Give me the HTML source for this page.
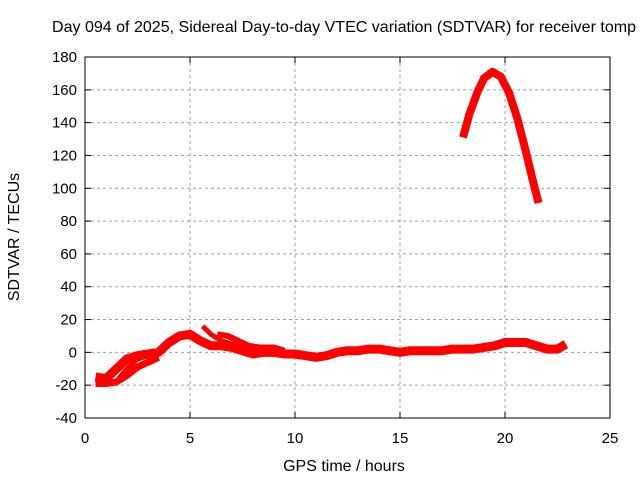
<!DOCTYPE html>
<html><head><meta charset="utf-8"><style>
body{margin:0;background:#fff;}
svg{display:block;font-family:"Liberation Sans",sans-serif;}
</style></head><body>
<svg id="c" width="640" height="480"></svg>
<script>
const xTicks=[0,5,10,15,20,25];
const yTicks=[-40,-20,0,20,40,60,80,100,120,140,160,180];
const seriesMain=[[0.5,-15],[1,-16],[1.5,-10],[2,-4],[2.5,-2],[3,-1],[3.5,0],[4,6],[4.5,10],[5,11],[5.5,7],[6,4],[6.5,4],[7,3],[7.5,1],[8,-1],[8.5,0],[9,0],[9.5,-1],[10,-1],[10.5,-2],[11,-3],[11.5,-2],[12,0],[12.5,1],[13,1],[13.5,2],[14,2],[14.5,1],[15,0],[15.5,1],[16,1],[16.5,1],[17,1],[17.5,2],[18,2],[18.5,2],[19,3],[19.5,4],[20,6],[20.5,6],[21,6],[21.5,4],[22,2],[22.5,2],[22.9,5]];
const seriesLow=[[0.5,-19],[1,-19],[1.5,-18],[2,-14],[2.5,-9],[3,-6],[3.5,-3]];
const seriesMid=[[1.6,-16],[2,-10],[2.5,-4],[3,-2],[3.6,2]];
const seriesBranch=[[5.6,16],[6,11],[6.5,7],[7,5],[7.5,4]];
const seriesBranch2=[[6.3,11],[6.8,10],[7.3,7],[7.8,4],[8.3,3],[9,3],[9.5,1]];
const seriesPeak=[[18,131],[18.3,145],[18.7,159],[19,167],[19.4,171],[19.8,168],[20.2,158],[20.6,142],[21,122],[21.3,106],[21.6,91]];
const X0=85,X1=610,Y0=418,Y1=57;
const sx=v=>X0+(v-0)/25*(X1-X0);
const sy=v=>Y0-(v+40)/220*(Y0-Y1);
const svg=document.getElementById('c');
const NS='http://www.w3.org/2000/svg';
function mk(t,a){const e=document.createElementNS(NS,t);for(const k in a)e.setAttribute(k,a[k]);svg.appendChild(e);return e;}
let t=mk('text',{x:52,y:32,'font-size':16,'text-anchor':'start',fill:'#000',textLength:584,lengthAdjust:'spacingAndGlyphs'});t.textContent='Day 094 of 2025, Sidereal Day-to-day VTEC variation (SDTVAR) for receiver tomp';


xTicks.forEach(v=>{const x=sx(v);
 if(v>0&&v<25){const g=mk('line',{x1:x,x2:x,y1:Y1,y2:Y0,stroke:'#a0a0a0','stroke-dasharray':'3,3'});}
 mk('line',{x1:x,x2:x,y1:Y0,y2:Y0-6,stroke:'#000'});mk('line',{x1:x,x2:x,y1:Y1,y2:Y1+6,stroke:'#000'});
 const l=mk('text',{x:x,y:443,'font-size':15,'text-anchor':'middle'});l.textContent=v;
 
 });
yTicks.forEach(v=>{const y=sy(v);
 if(v>-40&&v<180){const g=mk('line',{x1:X0,x2:X1,y1:y,y2:y,stroke:'#a0a0a0','stroke-dasharray':'3,3'});}
 mk('line',{x1:X0,x2:X0+6,y1:y,y2:y,stroke:'#000'});mk('line',{x1:X1,x2:X1-6,y1:y,y2:y,stroke:'#000'});
 const l=mk('text',{x:77,y:y+5,'font-size':15,'text-anchor':'end'});l.textContent=v;
 
 });
const fr=mk('rect',{x:X0,y:Y1,width:X1-X0,height:Y0-Y1,fill:'none',stroke:'#000'});


[[seriesMain,9],[seriesLow,7],[seriesMid,5],[seriesBranch,5],[seriesBranch2,6],[seriesPeak,8]].forEach(([s,w])=>{
 const p=mk('polyline',{points:s.map(d=>sx(d[0])+','+sy(d[1])).join(' '),fill:'none',stroke:'#ff0000','stroke-width':w,'stroke-linejoin':'round'});
 
 });
t=mk('text',{x:344,y:471,'font-size':16,'text-anchor':'middle'});t.textContent='GPS time / hours';


t=mk('text',{x:19,y:237,'font-size':16,'text-anchor':'middle',transform:'rotate(-90 19 237)'});t.textContent='SDTVAR / TECUs';


</script></body></html>
